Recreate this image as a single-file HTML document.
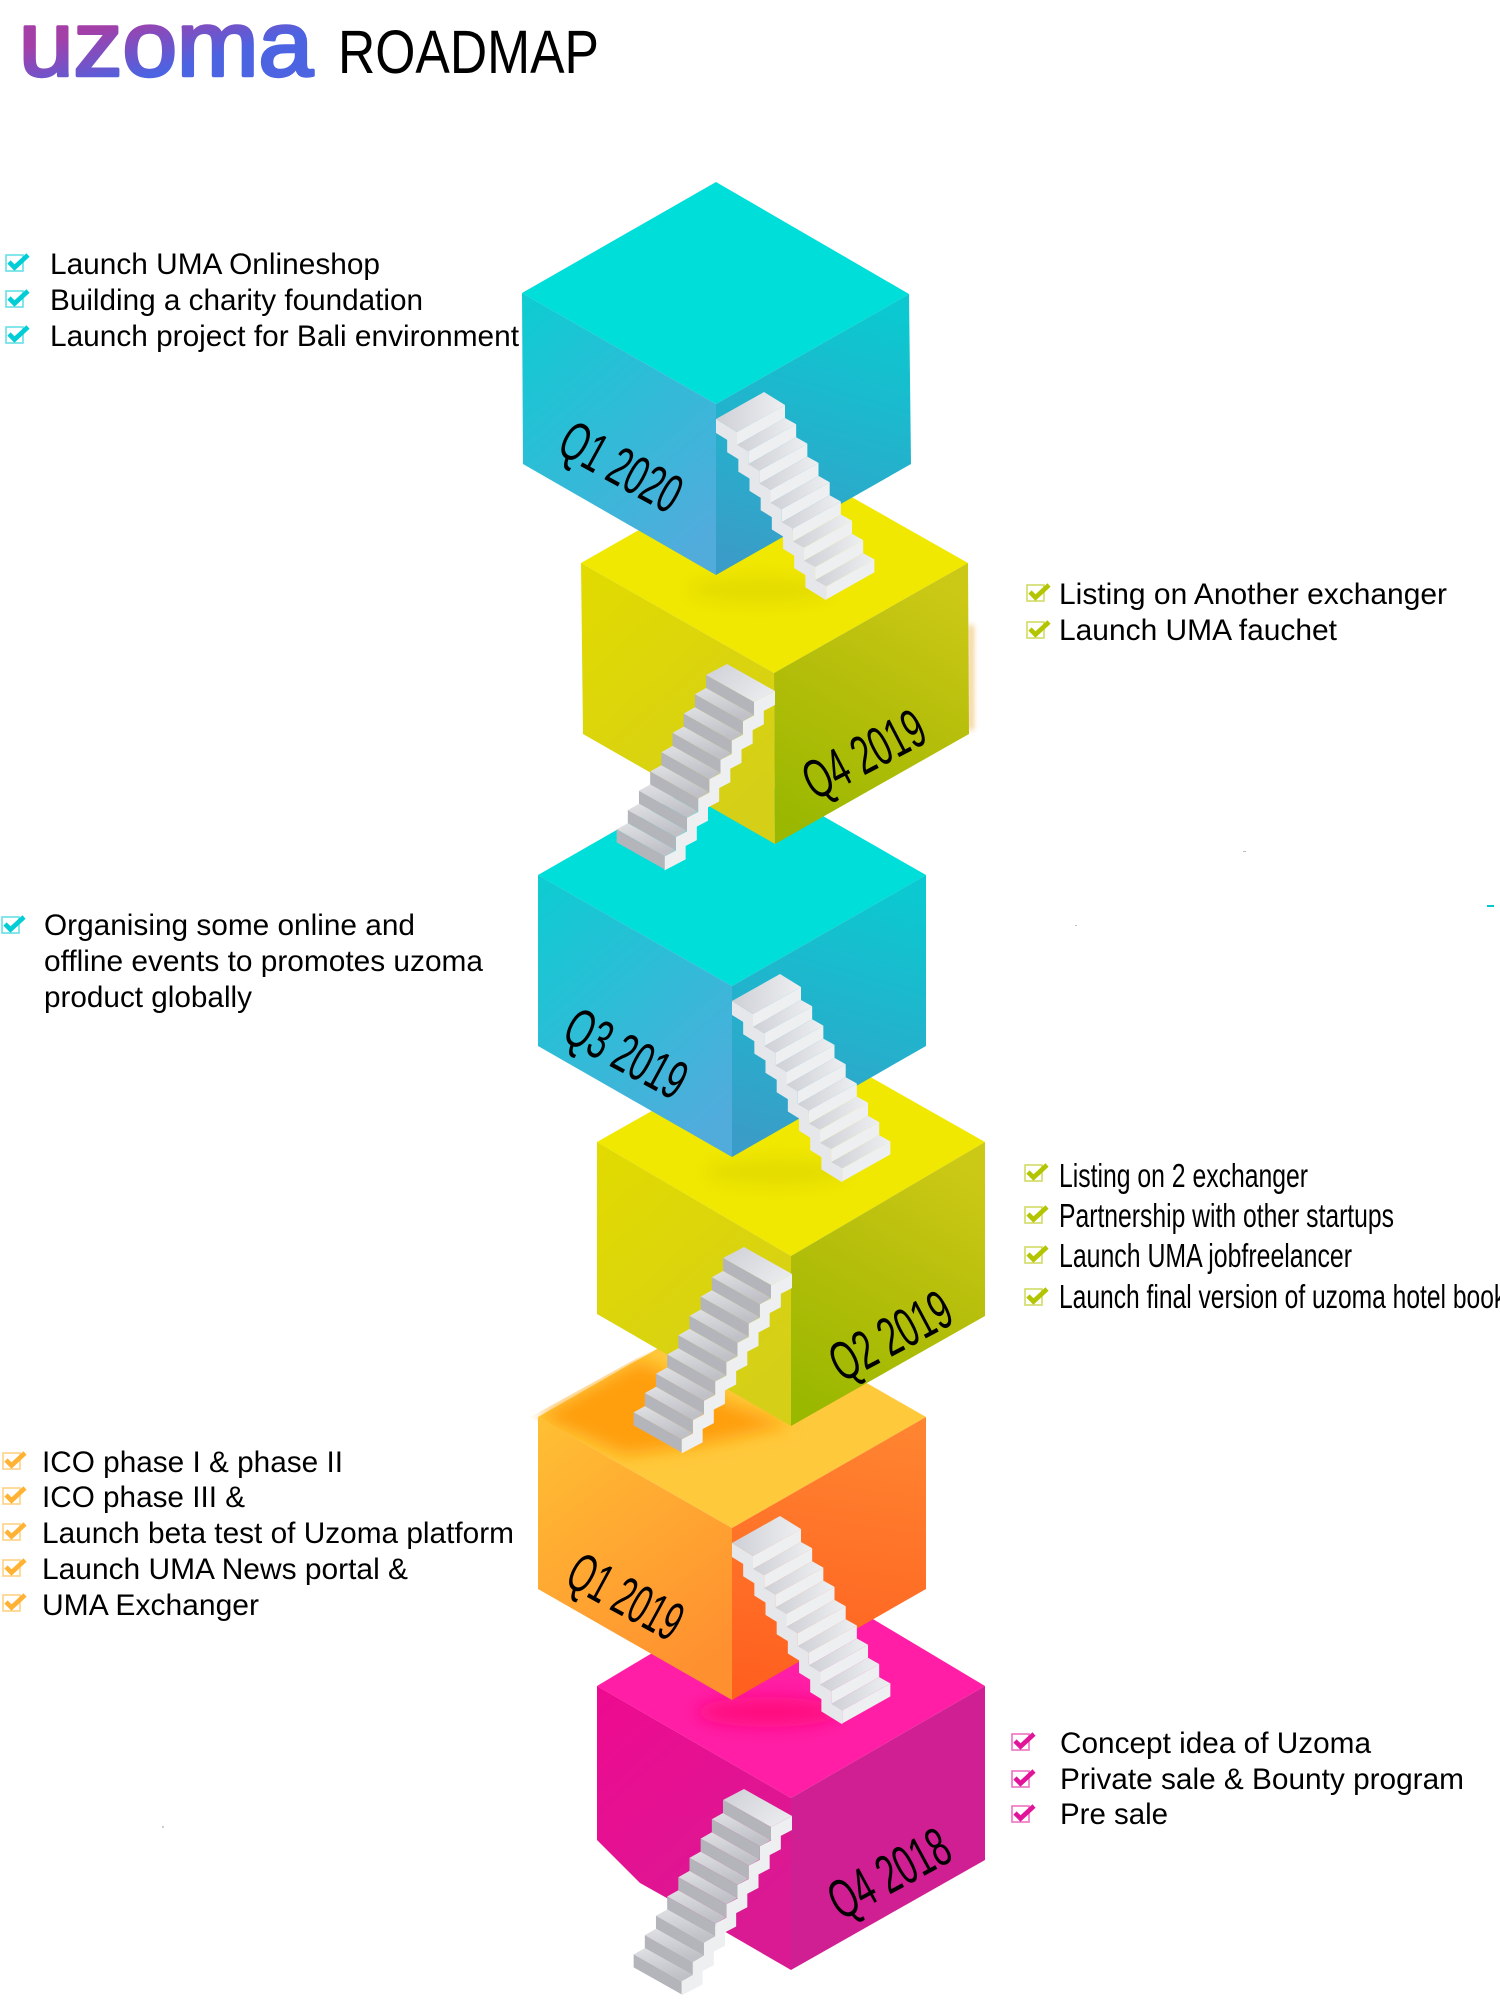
<!DOCTYPE html>
<html lang="en">
<head>
<meta charset="utf-8">
<title>uzoma ROADMAP</title>
<style>
html,body{margin:0;padding:0;background:#fff;width:1500px;height:2000px;overflow:hidden}
svg{display:block}
text{font-family:"Liberation Sans",sans-serif;fill:#000}
.t{font-size:30px}
.t2{font-size:33px}
.q{font-size:55px}
</style>
</head>
<body>
<svg width="1500" height="2000" viewBox="0 0 1500 2000" xmlns="http://www.w3.org/2000/svg">
<defs>
  <linearGradient id="logo" gradientUnits="userSpaceOnUse" x1="120" y1="22" x2="135" y2="78"><stop offset="0" stop-color="#a43fa8"/><stop offset="1" stop-color="#4c63e2"/></linearGradient>
  <linearGradient id="cL" x1="0.1" y1="0" x2="0.7" y2="1"><stop offset="0" stop-color="#0fcbd2"/><stop offset="1" stop-color="#51acdc"/></linearGradient>
  <linearGradient id="cR" x1="0.5" y1="0" x2="0.3" y2="1"><stop offset="0" stop-color="#0cc8d0"/><stop offset="1" stop-color="#3a9cc8"/></linearGradient>
  <linearGradient id="yL" x1="0" y1="0" x2="0.6" y2="1"><stop offset="0" stop-color="#e2db00"/><stop offset="1" stop-color="#d5cf18"/></linearGradient>
  <linearGradient id="yR" x1="0.7" y1="0" x2="0.3" y2="1"><stop offset="0" stop-color="#ccc916"/><stop offset="0.5" stop-color="#b4be0a"/><stop offset="1" stop-color="#9bb800"/></linearGradient>
  <linearGradient id="oL" x1="0.1" y1="0" x2="0.6" y2="1"><stop offset="0" stop-color="#ffbe33"/><stop offset="1" stop-color="#ff9030"/></linearGradient>
  <linearGradient id="oR" x1="0.5" y1="0" x2="0.4" y2="1"><stop offset="0" stop-color="#ff8430"/><stop offset="1" stop-color="#ff5f1f"/></linearGradient>
  <linearGradient id="pL" x1="0" y1="0" x2="0.6" y2="1"><stop offset="0" stop-color="#ee0a90"/><stop offset="1" stop-color="#d91a93"/></linearGradient>
  <linearGradient id="lA" x1="0" y1="0" x2="1" y2="0"><stop offset="0" stop-color="#cfd0d6"/><stop offset="1" stop-color="#eeeff1"/></linearGradient>
  <linearGradient id="tB" x1="0" y1="0" x2="1" y2="0.6"><stop offset="0" stop-color="#cfd0d6"/><stop offset="1" stop-color="#e9eaed"/></linearGradient>
  <linearGradient id="tC" x1="0" y1="0" x2="0.3" y2="1"><stop offset="0" stop-color="#e0e1e4"/><stop offset="1" stop-color="#c0c1c7"/></linearGradient>
  <filter id="b8" x="-30%" y="-60%" width="160%" height="220%"><feGaussianBlur stdDeviation="8"/></filter>
  <filter id="b3" x="-200%" y="-30%" width="500%" height="160%"><feGaussianBlur stdDeviation="3"/></filter>
  <clipPath id="o5"><polygon points="732,1306 926,1417 732,1528 530,1417"/></clipPath>

  <g id="sa">
    <polygon points="-69,14 -48,27 -48,41 -69,28" fill="#e6e7ea"/>
    <polygon points="0,0 -48,27 -59.17,20.7 -11.17,-6.3" fill="url(#lA)"/>
    <polygon points="0,0 -48,27 -48,40 0,13" fill="#eeeff1"/>
  </g>
  <g id="stairA">
    <polygon points="-69,14 -48,27 -48,41 -69,28" fill="#e6e7ea"/>
    <polygon points="-69,14 -21,-13 0,0 -48,27" fill="url(#lA)"/>
    <polygon points="0,0 -48,27 -48,40 0,13" fill="#eeeff1"/>
    <use href="#sa" x="11.17" y="19.3"/>
    <use href="#sa" x="22.34" y="38.6"/>
    <use href="#sa" x="33.51" y="57.9"/>
    <use href="#sa" x="44.68" y="77.2"/>
    <use href="#sa" x="55.85" y="96.5"/>
    <use href="#sa" x="67.02" y="115.8"/>
    <use href="#sa" x="78.19" y="135.1"/>
    <use href="#sa" x="89.36" y="154.4"/>
  </g>

  <g id="sb">
    <polygon points="48,27 69,16 69,30 48,41" fill="#eeeff1"/>
    <polygon points="0,0 11.17,-6.3 59.17,20.7 48,27" fill="url(#tC)"/>
    <polygon points="0,0 48,27 48,40 0,13" fill="#b4b4bb"/>
  </g>
  <g id="stairB">
    <polygon points="48,27 69,16 69,30 48,41" fill="#eeeff1"/>
    <polygon points="0,0 21,-11 69,16 48,27" fill="url(#tB)"/>
    <polygon points="0,0 48,27 48,40 0,13" fill="#b4b4bb"/>
    <use href="#sb" x="-11.17" y="19.3"/>
    <use href="#sb" x="-22.34" y="38.6"/>
    <use href="#sb" x="-33.51" y="57.9"/>
    <use href="#sb" x="-44.68" y="77.2"/>
    <use href="#sb" x="-55.85" y="96.5"/>
    <use href="#sb" x="-67.02" y="115.8"/>
    <use href="#sb" x="-78.19" y="135.1"/>
    <use href="#sb" x="-89.36" y="154.4"/>
  </g>

  <g id="ck">
    <rect x="1" y="1" width="17" height="16" fill="none" stroke="currentColor" stroke-width="1.6" opacity="0.6"/>
    <path d="M4 8 L9.5 13.5 L23 1" fill="none" stroke="currentColor" stroke-width="4.6"/>
  </g>
</defs>

<!-- header -->
<text x="19" y="75.5" font-size="92" stroke="url(#logo)" stroke-width="3.4" stroke-linejoin="round" textLength="294" lengthAdjust="spacingAndGlyphs" style="fill:url(#logo)">uzoma</text>
<text x="338" y="73" font-size="61" textLength="261" lengthAdjust="spacingAndGlyphs">ROADMAP</text>

<!-- cube 6 pink -->
<polygon points="791,1570 985,1686 791,1798 597,1686" fill="#ff1ea5"/>
<ellipse cx="768" cy="1712" rx="72" ry="15" fill="#ff0a80" filter="url(#b8)"/>
<polygon points="597,1686 791,1798 791,1970 665,1897 640,1883 597,1840" fill="url(#pL)"/>
<polygon points="791,1798 985,1686 985,1860 791,1970" fill="#d01f92"/>
<use href="#stairB" x="723" y="1800"/>
<text class="q" transform="translate(841,1921) rotate(-28.5)" textLength="130" lengthAdjust="spacingAndGlyphs">Q4 2018</text>

<!-- cube 5 orange -->
<polygon points="732,1306 926,1417 732,1528 538,1417" fill="#ffc93c"/>
<g clip-path="url(#o5)"><polygon points="640,1360 720,1400 790,1425 700,1445 625,1455 538,1417" fill="#ff9f10" filter="url(#b8)"/></g>
<polygon points="538,1417 732,1528 732,1700 538,1589" fill="url(#oL)"/>
<polygon points="732,1528 926,1417 926,1589 732,1700" fill="url(#oR)"/>
<use href="#stairA" x="801" y="1529"/>
<text class="q" transform="translate(563,1584) rotate(28.5)" textLength="122" lengthAdjust="spacingAndGlyphs">Q1 2019</text>

<!-- cube 4 yellow -->
<polygon points="791,1032 985,1142 791,1256 597,1142" fill="#f0e800"/>
<polygon points="597,1142 791,1256 791,1426 597,1314" fill="url(#yL)"/>
<polygon points="791,1256 985,1142 985,1316 791,1426" fill="url(#yR)"/>
<ellipse cx="777" cy="1172" rx="72" ry="14" fill="#e4dc00" filter="url(#b8)"/>
<use href="#stairB" x="723" y="1258"/>
<text class="q" transform="translate(842,1383) rotate(-28)" textLength="130" lengthAdjust="spacingAndGlyphs">Q2 2019</text>

<!-- cube 3 cyan -->
<polygon points="732,764 926,875 732,986 538,875" fill="#00ded9"/>
<polygon points="538,875 732,986 732,1157 538,1046" fill="url(#cL)"/>
<polygon points="732,986 926,875 926,1046 732,1157" fill="url(#cR)"/>
<use href="#stairA" x="801" y="987"/>
<text class="q" transform="translate(560,1039) rotate(28.5)" textLength="130" lengthAdjust="spacingAndGlyphs">Q3 2019</text>

<!-- cube 2 yellow -->
<polygon points="774,453 968,563 774,673 581,563" fill="#f0e800"/>
<ellipse cx="760" cy="590" rx="72" ry="14" fill="#e4dc00" filter="url(#b8)"/>
<polygon points="969,625 973,625 973,730 969,730" fill="#e9a020" filter="url(#b3)" opacity="0.7"/>
<polygon points="581,563 774,673 775,844 583,734" fill="url(#yL)"/>
<polygon points="774,673 968,563 969,734 775,844" fill="url(#yR)"/>
<use href="#stairB" x="706" y="675"/>
<text class="q" transform="translate(815,801) rotate(-27.5)" textLength="130" lengthAdjust="spacingAndGlyphs">Q4 2019</text>

<!-- cube 1 cyan -->
<polygon points="716,182 909,294 716,404 522,293" fill="#00ded9"/>
<polygon points="522,293 716,404 716,575 523,464" fill="url(#cL)"/>
<polygon points="716,404 909,294 911,464 716,575" fill="url(#cR)"/>
<use href="#stairA" x="785" y="405"/>
<text class="q" transform="translate(555,452) rotate(28.8)" textLength="130" lengthAdjust="spacingAndGlyphs">Q1 2020</text>

<!-- Q1 2020 list -->
<g color="#00cdd6">
  <use href="#ck" x="5" y="254"/><use href="#ck" x="5" y="290"/><use href="#ck" x="5" y="326"/>
</g>
<text class="t" x="50" y="274" textLength="330" lengthAdjust="spacingAndGlyphs">Launch UMA Onlineshop</text>
<text class="t" x="50" y="310" textLength="373" lengthAdjust="spacingAndGlyphs">Building a charity foundation</text>
<text class="t" x="50" y="346" textLength="469" lengthAdjust="spacingAndGlyphs">Launch project for Bali environment</text>

<!-- Q4 2019 list -->
<g color="#b3c400">
  <use href="#ck" x="1026" y="584"/><use href="#ck" x="1026" y="621"/>
</g>
<text class="t" x="1059" y="604" textLength="388" lengthAdjust="spacingAndGlyphs">Listing on Another exchanger</text>
<text class="t" x="1059" y="640" textLength="278" lengthAdjust="spacingAndGlyphs">Launch UMA fauchet</text>

<!-- Q3 2019 list -->
<g color="#00cdd6"><use href="#ck" x="1" y="916"/></g>
<text class="t" x="44" y="935" textLength="371" lengthAdjust="spacingAndGlyphs">Organising some online and</text>
<text class="t" x="44" y="971" textLength="439" lengthAdjust="spacingAndGlyphs">offline events to promotes uzoma</text>
<text class="t" x="44" y="1007" textLength="208" lengthAdjust="spacingAndGlyphs">product globally</text>

<!-- Q2 2019 list -->
<g color="#b3c400">
  <use href="#ck" x="1024" y="1164"/><use href="#ck" x="1024" y="1206"/><use href="#ck" x="1024" y="1246"/><use href="#ck" x="1024" y="1288"/>
</g>
<text class="t2" x="1059" y="1187" textLength="249" lengthAdjust="spacingAndGlyphs">Listing on 2 exchanger</text>
<text class="t2" x="1059" y="1227" textLength="335" lengthAdjust="spacingAndGlyphs">Partnership with other startups</text>
<text class="t2" x="1059" y="1267" textLength="293" lengthAdjust="spacingAndGlyphs">Launch UMA jobfreelancer</text>
<text class="t2" x="1059" y="1308" textLength="480" lengthAdjust="spacingAndGlyphs">Launch final version of uzoma hotel booking</text>

<!-- Q1 2019 list -->
<g color="#ffb233">
  <use href="#ck" x="2" y="1452"/><use href="#ck" x="2" y="1487"/><use href="#ck" x="2" y="1523"/><use href="#ck" x="2" y="1559"/><use href="#ck" x="2" y="1594"/>
</g>
<text class="t" x="42" y="1472" textLength="301" lengthAdjust="spacingAndGlyphs">ICO phase I &amp; phase II</text>
<text class="t" x="42" y="1507" textLength="203" lengthAdjust="spacingAndGlyphs">ICO phase III &amp;</text>
<text class="t" x="42" y="1543" textLength="472" lengthAdjust="spacingAndGlyphs">Launch beta test of Uzoma platform</text>
<text class="t" x="42" y="1579" textLength="366" lengthAdjust="spacingAndGlyphs">Launch UMA News portal &amp;</text>
<text class="t" x="42" y="1615" textLength="217" lengthAdjust="spacingAndGlyphs">UMA Exchanger</text>

<!-- Q4 2018 list -->
<g color="#e0159a">
  <use href="#ck" x="1011" y="1733"/><use href="#ck" x="1011" y="1770"/><use href="#ck" x="1011" y="1805"/>
</g>
<text class="t" x="1060" y="1753" textLength="311" lengthAdjust="spacingAndGlyphs">Concept idea of Uzoma</text>
<text class="t" x="1060" y="1789" textLength="404" lengthAdjust="spacingAndGlyphs">Private sale &amp; Bounty program</text>
<text class="t" x="1060" y="1824" textLength="108" lengthAdjust="spacingAndGlyphs">Pre sale</text>

<!-- specks -->
<rect x="1487" y="905" width="7" height="2" fill="#00c8d0"/>
<rect x="1243" y="851" width="3" height="1" fill="#bbb"/>
<rect x="1075" y="925" width="2" height="1" fill="#bbb"/>
<rect x="162" y="1826" width="2" height="2" fill="#ccc"/>
</svg>
</body>
</html>
